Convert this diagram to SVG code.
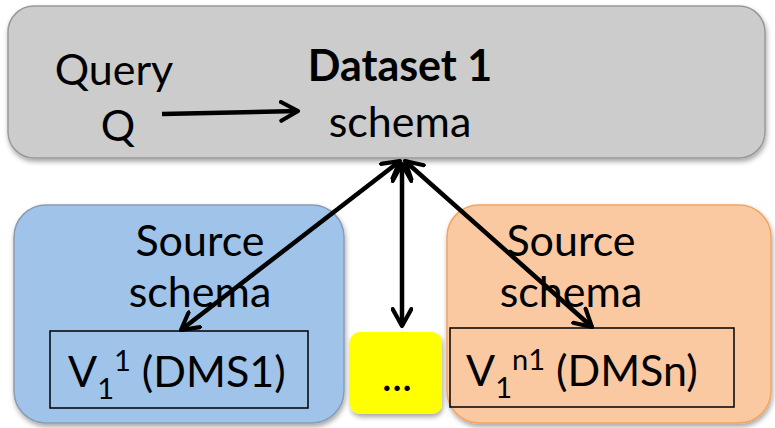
<svg xmlns="http://www.w3.org/2000/svg" width="775" height="428" viewBox="0 0 775 428">
  <style>
    text { font-family: Lato, "Liberation Sans", sans-serif; font-size: 43px; fill: #000; }
    .c { text-anchor: middle; }
    .b { font-weight: bold; }
    .sub { font-size: 29px; }
    .link { stroke: #000; stroke-width: 4.5; fill: none; }
  </style>
  <defs>
    <filter id="shadow" x="-5%" y="-5%" width="110%" height="115%">
      <feDropShadow dx="1" dy="3" stdDeviation="2.5" flood-color="#000" flood-opacity="0.35"/>
    </filter>
    <marker id="head" viewBox="0 0 12 12" refX="10" refY="6" markerWidth="5" markerHeight="5" markerUnits="strokeWidth" orient="auto-start-reverse">
      <path d="M1,1 L10,6 L1,11" fill="none" stroke="#000" stroke-width="2.2" stroke-linecap="round" stroke-linejoin="round"/>
    </marker>
  </defs>

  <!-- dataset schema -->
  <g id="dataset">
    <rect x="8" y="6" width="757" height="152" rx="26" fill="#cccccc" stroke="#999999" stroke-width="1.5" filter="url(#shadow)"/>
    <text class="c" x="114" y="85">Query</text>
    <text class="c" x="118" y="141">Q</text>
    <text class="c b" x="400" y="81">Dataset 1</text>
    <text class="c" x="400" y="137">schema</text>
  </g>

  <!-- source 1 -->
  <g id="source1">
    <rect x="14" y="205" width="330" height="218" rx="32" fill="#9fc3e9" stroke="#8a9cb3" stroke-width="1.5" filter="url(#shadow)"/>
    <text class="c" x="200" y="256">Source</text>
    <text class="c" x="200" y="307">schema</text>
    <rect x="50" y="331" width="258" height="77" fill="none" stroke="#000" stroke-width="1.5"/>
    <text x="68" y="387">V<tspan class="sub" dy="12">1</tspan><tspan class="sub" dy="-28">1</tspan><tspan dy="16"> (DMS1)</tspan></text>
  </g>

  <!-- further sources -->
  <g id="more">
    <rect x="350" y="332" width="92" height="82" rx="10" fill="#ffff00" filter="url(#shadow)"/>
    <text class="c" x="397" y="391">...</text>
  </g>

  <!-- source n -->
  <g id="sourceN">
    <rect x="447" y="205" width="324" height="218" rx="32" fill="#fac9a1" stroke="#f4a460" stroke-width="1.5" filter="url(#shadow)"/>
    <text class="c" x="571" y="256">Source</text>
    <text class="c" x="571" y="307">schema</text>
    <rect x="450" y="328" width="284" height="79" fill="none" stroke="#000" stroke-width="1.5"/>
    <text x="466" y="386">V<tspan class="sub" dy="12">1</tspan><tspan class="sub" dy="-28">n1</tspan><tspan dy="16"> (DMSn)</tspan></text>
  </g>

  <!-- connectors -->
  <g id="connectors">
    <line class="link" x1="162" y1="114" x2="298" y2="111" marker-end="url(#head)"/>
    <line class="link" x1="400" y1="161" x2="181" y2="330" marker-start="url(#head)" marker-end="url(#head)"/>
    <line class="link" x1="402" y1="164" x2="402" y2="326" marker-start="url(#head)" marker-end="url(#head)"/>
    <line class="link" x1="405" y1="161" x2="592" y2="327" marker-start="url(#head)" marker-end="url(#head)"/>
  </g>
</svg>
